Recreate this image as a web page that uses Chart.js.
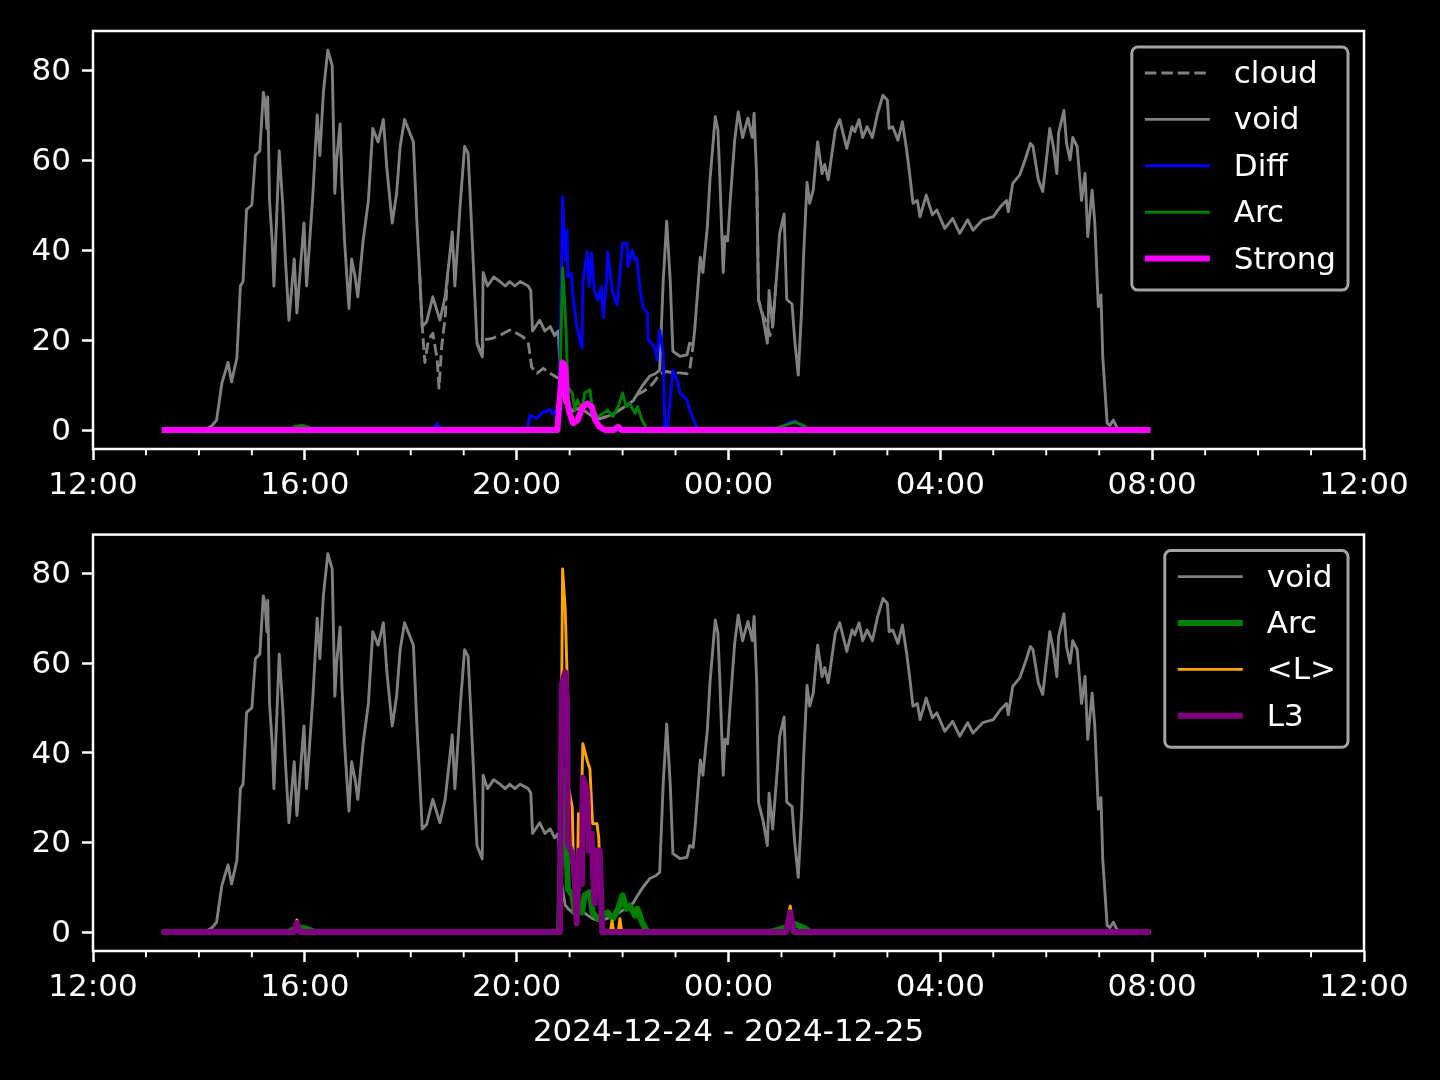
<!DOCTYPE html>
<html><head><meta charset="utf-8">
<script src="https://cdn.jsdelivr.net/npm/chart.js@4.4.1/dist/chart.umd.min.js"></script>
<style>
html,body{margin:0;padding:0;background:#000;width:1440px;height:1080px;overflow:hidden}
canvas{position:absolute;left:0}
#c1{top:0;width:1440px;height:505px}
#c2{top:505px;width:1440px;height:575px}
</style></head><body>
<canvas id="c1" width="1440" height="505"></canvas>
<canvas id="c2" width="1440" height="575"></canvas>
<script>
// ---------- data (clock times on 2024-12-24 / 2024-12-25) ----------
const xMajorHours = [0, 4, 8, 12, 16, 20, 24];
const xTickLabels = ["12:00", "16:00", "20:00", "00:00", "04:00", "08:00", "12:00"];
const yTicks = [0, 20, 40, 60, 80];
const xAxisTitle = "2024-12-24 - 2024-12-25";

const voidTime = [
 "13:18","14:07","14:15","14:20","14:26","14:33","14:37","14:43","14:47","14:50",
 "14:54","15:00","15:04","15:09","15:13","15:15","15:17","15:18","15:20","15:23",
 "15:25","15:31","15:35","15:38","15:42","15:48","15:51","15:59","16:02","16:09",
 "16:14","16:17","16:21","16:26","16:31","16:34","16:36","16:40","16:42","16:45",
 "16:50","16:53","16:57","17:00","17:06","17:12","17:17","17:23","17:29","17:33",
 "17:39","17:44","17:48","17:53","17:59","18:03","18:07","18:10","18:13","18:18",
 "18:25","18:33","18:39","18:47","18:50","18:56","19:01","19:05","19:09","19:15",
 "19:21","19:22","19:27","19:34","19:41","19:47","19:52","19:58","20:04","20:13",
 "20:16","20:18","20:26","20:32","20:38","20:43","20:47","20:50","20:55","20:58",
 "21:04","21:12","21:20","21:26","21:34","21:42","21:49","21:57","22:05","22:12",
 "22:16","22:23","22:31","22:37","22:42","22:46","22:50","22:54","22:57","23:05",
 "23:13","23:16","23:20","23:22","23:28","23:31","23:36","23:39","23:45","23:48",
 "23:50","23:54","23:56","23:59","00:02","00:07","00:11","00:16","00:22","00:27",
 "00:29","00:32","00:34","00:39","00:44","00:46","00:50","00:54","00:58","01:03",
 "01:06","01:12","01:15","01:19","01:23","01:25","01:29","01:32","01:36","01:40",
 "01:41","01:46","01:49","01:53","02:01","02:06","02:14","02:20","02:23","02:28",
 "02:32","02:37","02:43","02:49","02:55","03:00","03:02","03:06","03:12","03:17",
 "03:22","03:26","03:29","03:34","03:37","03:44","03:51","03:56","04:05","04:14",
 "04:22","04:31","04:37","04:48","05:00","05:08","05:15","05:17","05:22","05:30",
 "05:36","05:42","05:45","05:51","05:56","06:01","06:04","06:08","06:12","06:14",
 "06:20","06:23","06:27","06:30","06:35","06:40","06:44","06:47","06:52","06:55",
 "06:59","07:02","07:04","07:09","07:12","07:16","07:20","07:24","07:58"];
const voidVal = [
 0,0,1.0,2.2,10.4,15,10.7,16,32,33,
 49,50,61,62,75,73,67,74,51,42,
 32,62,50,38,24.4,38,26,46,32,52,
 70,61,75,84.4,81,52.6,60,68,55,42,
 27,38,34,29.6,42,51,67,64,69,58,
 46,52.6,63,69,66,64,46,35,23,24,
 29.6,24.4,29.6,44,32,50,63,61.5,45,19.3,
 16.3,35,32,34,33,32,33,32,33,32,
 31,22,24.4,22,23,21,22,12,6,5.3,
 4.2,5,3.8,3,2.5,3,3.5,4.5,5.5,6.5,
 7.8,10,12,12.5,13.3,33,46.4,33,17.5,16.4,
 16.7,19.3,18.9,23,38.4,35,45,55.6,69.6,66.7,
 57,35,43,42,51,64.4,70.7,65,69.3,65,
 70.4,55.6,28.9,25,19.3,31,23,33,43.7,48,
 29,28,20,12.2,27.4,38.4,55,50.4,53.3,62,
 64,57,59,55.6,66.7,69,62.6,67.4,66.3,69,
 65,67.4,65,70.4,74.4,73.3,67,67.4,64.4,68.5,
 62,55.6,50.4,51,47.4,52.2,47.8,48.9,44.8,47,
 43.7,46.7,44.4,46.7,47.4,49.6,51,48.5,54.8,56.7,
 60,63.7,63,55.6,53,61.5,67,63,57,66,
 71,63.7,60,65,63,51,57,43,53.3,46,
 27.4,30,16.3,1.5,1.0,2.2,0.6,0,0];

// cloud: only where it separates from void (null = hidden under void)
const cloudTime = [
 "18:10","18:13","18:16","18:20","18:25","18:30","18:32","18:35","18:39","18:42","18:50",
 "19:15","19:21","19:22","19:33","19:41","19:52","20:00","20:07","20:13","20:17","20:23","20:30","20:38","20:46","20:50","20:55","21:00",
 "22:16","22:23","22:31","22:37","22:42","22:50","22:57","23:05","23:13","23:16","23:20","23:30",
 "00:32","00:34","00:39","00:43","00:47","00:50","00:54"];
const cloudVal = [
 35,23,15,20,21.5,15.6,9.3,18.5,25,36,null,
 19.3,16.3,20,20.4,21,22.2,21.5,20.7,19.6,14,12.6,13.7,12.6,11.6,12,6,null,
 7.8,8.5,9.6,11,12.5,13,12.7,12.7,12.5,13.3,18.9,null,
 55.6,28.9,25.5,24,21,23,33];

const diffTime = ["13:18","18:25","18:30","18:34","20:12","20:15","20:23","20:30","20:38","20:41",
 "20:46","20:48","20:52","20:55","20:57","20:58","21:02","21:04","21:08","21:11",
 "21:14","21:15","21:20","21:22","21:25","21:28","21:32","21:36","21:38","21:42",
 "21:43","21:47","21:49","21:54","21:57","22:00","22:05","22:06","22:11","22:14",
 "22:16","22:20","22:23","22:28","22:29","22:33","22:37","22:39","22:42","22:46",
 "22:48","22:51","22:57","23:02","23:05","23:13","23:16","23:24","23:26","00:58",
 "01:07","01:15","01:21","01:25","07:58"];
const diffVal = [0,0,1.3,0,0,3.3,2.6,4,4.5,3.5,
 4.8,2,51.8,37.8,44.4,34,34.8,29.6,23,20.7,
 18.2,33,39.6,31.9,39.3,31,28.9,31.9,25,33.3,
 39.6,33.3,30.4,27.8,34.8,41.5,41.5,36.3,40,37.8,
 38.2,31,27.4,26,20,19.3,17.8,15.6,22.2,17,
 0.4,0.4,13.3,11,8.2,6.7,4.4,0.7,0,0,
 1.5,2,1.2,0,0];

const arcTime = ["13:18","15:41","15:49","15:57","16:06","16:11","20:48","20:52","20:54","20:56",
 "20:58","21:03","21:06","21:09","21:14","21:17","21:23","21:26","21:32","21:38",
 "21:43","21:49","21:55","22:00","22:04","22:08","22:14","22:17","22:22","22:28",
 "00:47","01:04","01:15","01:27","01:32","07:58"];
const arcVal = [0,0,0.8,1.0,0.5,0,0,36,29.6,22,
 9.6,8.2,4.4,6.7,4.4,8.2,8.9,4.4,3,3.7,
 4.4,3,5.2,8.2,5.2,5.9,3.7,5.2,2.2,0,
 0,1,1.8,0.8,0,0];

const strongTime = ["13:18","20:46","20:52","20:55","20:57","21:00","21:04","21:09","21:15","21:20",
 "21:25","21:29","21:34","21:40","21:50","21:55","21:59","07:58"];
const strongVal = [0,0,15,14,6.7,3.7,1.5,2.2,5.2,5.9,
 5.2,2.2,0.7,0,0,0.7,0,0];

const lTime = ["13:18","15:48","15:51","15:55","20:49","20:52","20:55","20:57","20:58","21:03",
 "21:04","21:08","21:10","21:12","21:15","21:20","21:23","21:26","21:31","21:33",
 "21:37","21:46","21:48","21:50","21:55","21:57","21:59","01:04","01:10","01:14","07:58"];
const lVal = [0,0,2.7,0,0,81,72,58,33,27.8,
 18.2,3.3,26.4,18,42,38.2,36.4,24.2,24.2,21,
 0,0,2.5,0,0,3,0,0,5.8,0,0];

const l3Time = ["13:18","15:48","15:51","15:55","20:49","20:51","20:55","20:57","20:58","21:03",
 "21:06","21:08","21:11","21:14","21:15","21:20","21:22","21:25","21:28","21:31",
 "21:34","21:37","01:05","01:10","01:14","07:58"];
const l3Val = [0,0,2,0,0,55,58,51.6,19.8,17.5,
 10.8,2,18.2,10.8,34.4,31.6,18.2,22,6.4,18.2,
 18.2,0,0,4.4,0,0];

// ---------- helpers ----------
function toHours(t) { // hours after 12:00 on the first day
  const [h, m] = t.split(':').map(Number);
  let v = h + m / 60 - 12;
  if (v < 0) v += 24;
  return v;
}
function series(times, vals) {
  if (times.length !== vals.length) console.error('length mismatch', times.length, vals.length);
  return times.map((t, i) => ({ x: toHours(t), y: vals[i] }));
}

const FONT = 'DejaVu Sans';
Chart.defaults.font.family = FONT;
Chart.defaults.color = '#ffffff';
const THIN = 2.9, THICK = 6;

const axesDeco = {
  id: 'axesDeco',
  afterDatasetsDraw(chart) {
    const { ctx, chartArea: a, scales: { x } } = chart;
    ctx.save();
    ctx.strokeStyle = '#ffffff';
    ctx.lineWidth = 1.9;
    for (let h = 0; h <= 24; h++) {
      if (h % 4 === 0) continue;
      const px = x.getPixelForValue(h);
      ctx.beginPath(); ctx.moveTo(px, a.bottom); ctx.lineTo(px, a.bottom + 6.3); ctx.stroke();
    }
    ctx.lineWidth = 2.5;
    ctx.strokeRect(a.left, a.top, a.right - a.left, a.bottom - a.top);
    ctx.restore();
  }
};

const mplLegend = {
  id: 'mplLegend',
  afterDraw(chart) {
    const { ctx, chartArea: a } = chart;
    const items = chart.data.datasets;
    ctx.save();
    ctx.font = '31px "' + FONT + '"';
    const maxW = Math.max(...items.map(d => ctx.measureText(d.label).width));
    const w = 13 + 65 + 24 + maxW + 12;
    const h = 26 + (items.length - 1) * 46.4 + 31.5;
    const right = a.right - 16, top = a.top + 16, left = right - w;
    ctx.beginPath();
    ctx.roundRect(left, top, w, h, 6);
    ctx.fillStyle = 'rgba(0,0,0,0.8)';
    ctx.fill();
    ctx.lineWidth = 3;
    ctx.strokeStyle = '#a3a3a3';
    ctx.stroke();
    items.forEach((d, i) => {
      const y = top + 26 + i * 46.4;
      ctx.beginPath();
      ctx.setLineDash(d.borderDash || []);
      ctx.strokeStyle = d.borderColor;
      ctx.lineWidth = d.borderWidth;
      ctx.moveTo(left + 13, y); ctx.lineTo(left + 78, y);
      ctx.stroke();
      ctx.setLineDash([]);
      ctx.fillStyle = '#ffffff';
      ctx.textBaseline = 'middle';
      ctx.textAlign = 'left';
      ctx.fillText(d.label, left + 102, y + 2);
    });
    ctx.restore();
  }
};

function ds(label, data, color, width, dash) {
  return { label, data, borderColor: color, backgroundColor: color, borderWidth: width,
    borderDash: dash || [], pointRadius: 0, pointHoverRadius: 0, tension: 0,
    borderJoinStyle: 'round', borderCapStyle: 'butt', fill: false, spanGaps: false };
}

function makeOptions(xHeight, padTop, withTitle) {
  const tickFont = { family: FONT, size: 31 };
  return {
    responsive: false, animation: false, devicePixelRatio: 1,
    layout: { padding: { top: padTop, right: 76, left: 0, bottom: 0 } },
    plugins: { legend: { display: false }, tooltip: { enabled: false } },
    scales: {
      x: {
        type: 'linear', min: 0, max: 24,
        afterBuildTicks: s => { s.ticks = xMajorHours.map(v => ({ value: v })); },
        afterFit: s => { s.height = xHeight; },
        ticks: { color: '#ffffff', font: tickFont, padding: 7, maxRotation: 0, minRotation: 0,
          autoSkip: false, callback: (v, i) => xTickLabels[i] },
        grid: { display: true, drawOnChartArea: false, drawTicks: true, tickLength: 11,
          tickColor: '#ffffff', tickWidth: 2.5 },
        border: { display: false },
        title: withTitle ? { display: true, text: xAxisTitle, color: '#ffffff',
          font: tickFont, padding: { top: 0, bottom: 28 } } : { display: false }
      },
      y: {
        type: 'linear', min: -4.222, max: 88.667,
        afterBuildTicks: s => { s.ticks = yTicks.map(v => ({ value: v })); },
        afterFit: s => { s.width = 93; },
        ticks: { color: '#ffffff', font: tickFont, padding: 11, labelOffset: 2, callback: v => String(v) },
        grid: { display: true, drawOnChartArea: false, drawTicks: true, tickLength: 11,
          tickColor: '#ffffff', tickWidth: 2.5 },
        border: { display: false }
      }
    }
  };
}

// top panel: later datasets drawn on top (order reversed for Chart.js)
const topSets = [
  ds('cloud', series(cloudTime, cloudVal), '#808080', THIN, [11.5, 5]),
  ds('void', series(voidTime, voidVal), '#808080', THIN),
  ds('Diff', series(diffTime, diffVal), '#0000ff', THIN),
  ds('Arc', series(arcTime, arcVal), '#008000', THIN),
  ds('Strong', series(strongTime, strongVal), '#ff00ff', THICK)
];
topSets.forEach((d, i) => { d.order = topSets.length - 1 - i; });

const botSets = [
  ds('void', series(voidTime, voidVal), '#808080', THIN),
  ds('Arc', series(arcTime, arcVal), '#008000', THICK),
  ds('<L>', series(lTime, lVal), '#ffa500', THIN),
  ds('L3', series(l3Time, l3Val), '#800080', THICK)
];
botSets.forEach((d, i) => { d.order = botSets.length - 1 - i; });

new Chart(document.getElementById('c1'), {
  type: 'line', data: { datasets: topSets },
  options: makeOptions(505 - 449, 31, false), plugins: [axesDeco, mplLegend]
});
new Chart(document.getElementById('c2'), {
  type: 'line', data: { datasets: botSets },
  options: makeOptions(575 - 446, 28, true), plugins: [axesDeco, mplLegend]
});
</script>
</body></html>
